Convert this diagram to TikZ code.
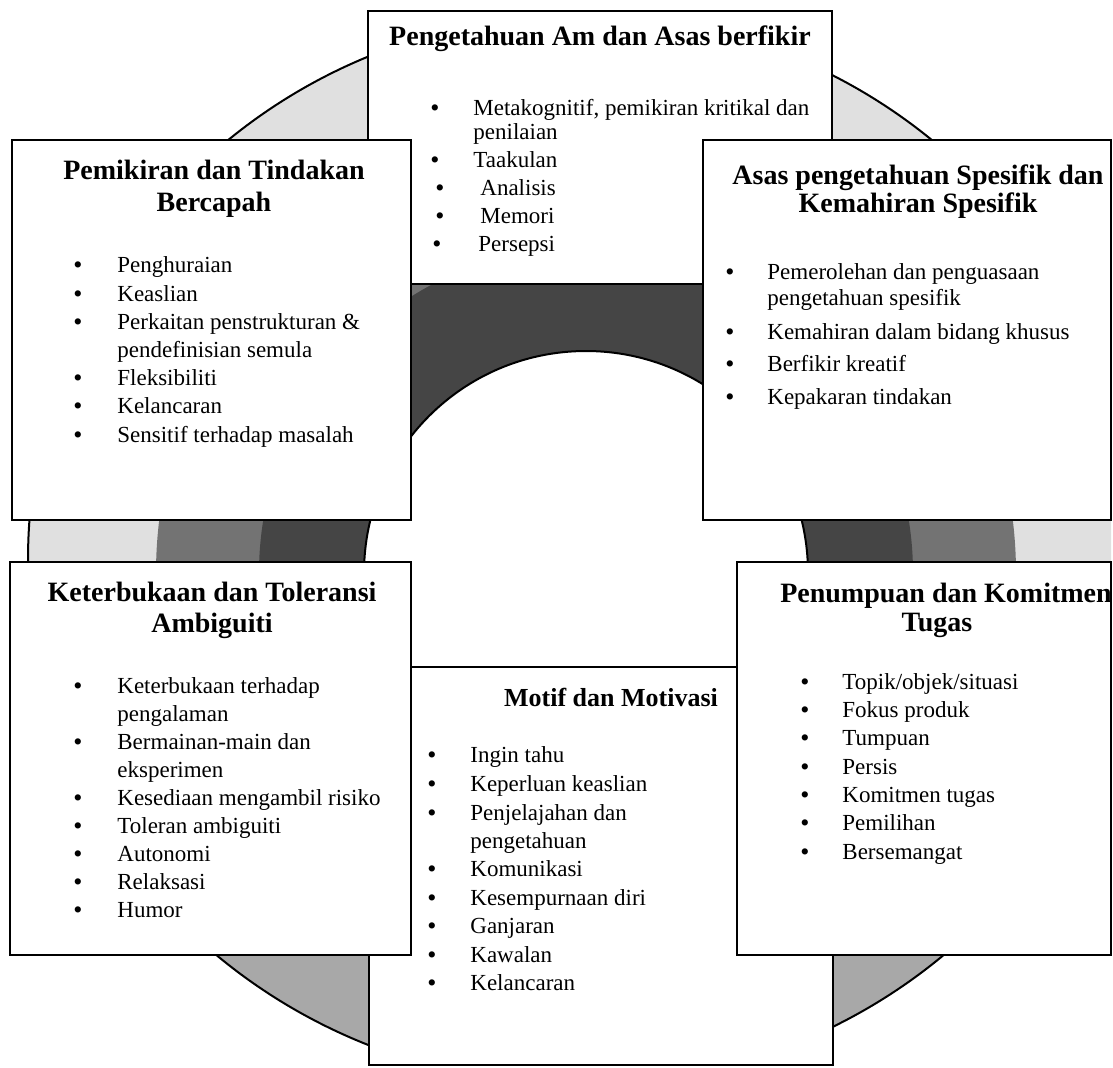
\documentclass[tikz,border=0pt]{standalone}
\usepackage{fontspec}
\setmainfont{Liberation Serif}
\definecolor{ringdark}{gray}{0.27}
\definecolor{ringmid}{gray}{0.45}
\definecolor{ringlight}{gray}{0.88}
\definecolor{ringbot}{gray}{0.66}
\newcommand\BItem[5]{\node[bul] (#1b) at (#2,#4+8) {\textbullet};\node[body] (#1) at (#3,#4+7) {#5};}
\newcommand\CItem[4]{\node[body] (#1) at (#2,#3+7) {#4};}
\newcommand\TLine[4]{\node[ttl] (#1) at (#2,#3+9) {#4};}
\begin{document}
\begin{tikzpicture}[x=0.5pt,y=-0.5pt,
  box/.style={draw, line width=1pt, fill=white, anchor=north west, inner sep=0pt, outer sep=0pt},
  ttl/.style={font=\fontsize{14}{16}\selectfont\bfseries, anchor=base, inner sep=0pt},
  body/.style={font=\fontsize{11.5}{14}\selectfont, anchor=base west, inner sep=0pt},
  bul/.style={font=\fontsize{13}{14}\selectfont, anchor=base, inner sep=0pt},
  ringline/.style={line width=1pt}]
\useasboundingbox (0,0) rectangle (1113,1067);
% ring
\begin{scope}
\clip (0,0) rectangle (1111,1064);
\begin{scope}
\clip (28,560) arc[start angle=180, end angle=360, x radius=552, y radius=545]
  arc[start angle=0, end angle=180, x radius=552, y radius=525] -- cycle;
\fill[ringlight] (0,0) rectangle (1113,1067);
\fill[ringmid] (586,573) circle[radius=430];
\fill[ringbot] (0,900) rectangle (1113,1067);
\fill[ringdark] (586,573) circle[radius=327];
\fill[white] (586,573) circle[radius=222];
\end{scope}
\draw[ringline] (28,560) arc[start angle=180, end angle=360, x radius=552, y radius=545]
  arc[start angle=0, end angle=180, x radius=552, y radius=525] -- cycle;
\draw[ringline] (586,573) circle[radius=222];
\end{scope}
% boxes
\node[box, minimum width=232pt, minimum height=136.5pt] (T) at (368,11) {};
\node[box, minimum width=232pt, minimum height=199pt] (M) at (369,667) {};
\node[box, minimum width=199.5pt, minimum height=190pt] (TL) at (12,140) {};
\node[box, minimum width=204pt, minimum height=190pt] (TR) at (703,140) {};
\node[box, minimum width=200.5pt, minimum height=196.5pt] (BL) at (10,562) {};
\node[box, minimum width=187pt, minimum height=196.5pt] (BR) at (737,562) {};
% top box
\TLine{tT}{600}{36}{Pengetahuan Am dan Asas berfikir}
\BItem{t1}{435}{473}{108}{Metakognitif, pemikiran kritikal dan}
\CItem{t1c}{473}{132}{penilaian}
\BItem{t2}{435}{473}{160}{Taakulan}
\BItem{t3}{440}{480}{188}{Analisis}
\BItem{t4}{440}{480}{216}{Memori}
\BItem{t5}{437}{478}{244}{Persepsi}
% top-left box
\TLine{tTLa}{214}{170}{Pemikiran dan Tindakan}
\TLine{tTLb}{214}{202}{Bercapah}
\BItem{l1}{78}{117}{265}{Penghuraian}
\BItem{l2}{78}{117}{294}{Keaslian}
\BItem{l3}{78}{117}{322}{Perkaitan penstrukturan \&}
\CItem{l3c}{117}{350}{pendefinisian semula}
\BItem{l4}{78}{117}{378}{Fleksibiliti}
\BItem{l5}{78}{117}{406}{Kelancaran}
\BItem{l6}{78}{117}{435}{Sensitif terhadap masalah}
% top-right box
\TLine{tTRa}{918}{175}{Asas pengetahuan Spesifik dan}
\TLine{tTRb}{918}{203}{Kemahiran Spesifik}
\BItem{r1}{730}{767}{272}{Pemerolehan dan penguasaan}
\CItem{r1c}{767}{298}{pengetahuan spesifik}
\BItem{r2}{730}{767}{332}{Kemahiran dalam bidang khusus}
\BItem{r3}{730}{767}{364}{Berfikir kreatif}
\BItem{r4}{730}{767}{397}{Kepakaran tindakan}
% bottom-left box
\TLine{tBLa}{212}{592}{Keterbukaan dan Toleransi}
\TLine{tBLb}{212}{623}{Ambiguiti}
\BItem{b1}{78}{117}{686}{Keterbukaan terhadap}
\CItem{b1c}{117}{714}{pengalaman}
\BItem{b2}{78}{117}{742}{Bermainan-main dan}
\CItem{b2c}{117}{770}{eksperimen}
\BItem{b3}{78}{117}{798}{Kesediaan mengambil risiko}
\BItem{b4}{78}{117}{826}{Toleran ambiguiti}
\BItem{b5}{78}{117}{854}{Autonomi}
\BItem{b6}{78}{117}{882}{Relaksasi}
\BItem{b7}{78}{117}{910}{Humor}
% bottom-right box
\TLine{tBRa}{946}{593}{Penumpuan dan Komitmen}
\TLine{tBRb}{937}{622}{Tugas}
\BItem{p1}{805}{842}{682}{Topik/objek/situasi}
\BItem{p2}{805}{842}{710}{Fokus produk}
\BItem{p3}{805}{842}{738}{Tumpuan}
\BItem{p4}{805}{842}{767}{Persis}
\BItem{p5}{805}{842}{795}{Komitmen tugas}
\BItem{p6}{805}{842}{823}{Pemilihan}
\BItem{p7}{805}{842}{852}{Bersemangat}
% motif box
\node[ttl, font=\fontsize{13}{15}\selectfont\bfseries] (tM) at (611,697+9) {Motif dan Motivasi};
\BItem{m1}{432}{470}{755}{Ingin tahu}
\BItem{m2}{432}{470}{784}{Keperluan keaslian}
\BItem{m3}{432}{470}{813}{Penjelajahan dan}
\CItem{m3c}{470}{841}{pengetahuan}
\BItem{m4}{432}{470}{869}{Komunikasi}
\BItem{m5}{432}{470}{898}{Kesempurnaan diri}
\BItem{m6}{432}{470}{926}{Ganjaran}
\BItem{m7}{432}{470}{955}{Kawalan}
\BItem{m8}{432}{470}{983}{Kelancaran}
\end{tikzpicture}
\end{document}
